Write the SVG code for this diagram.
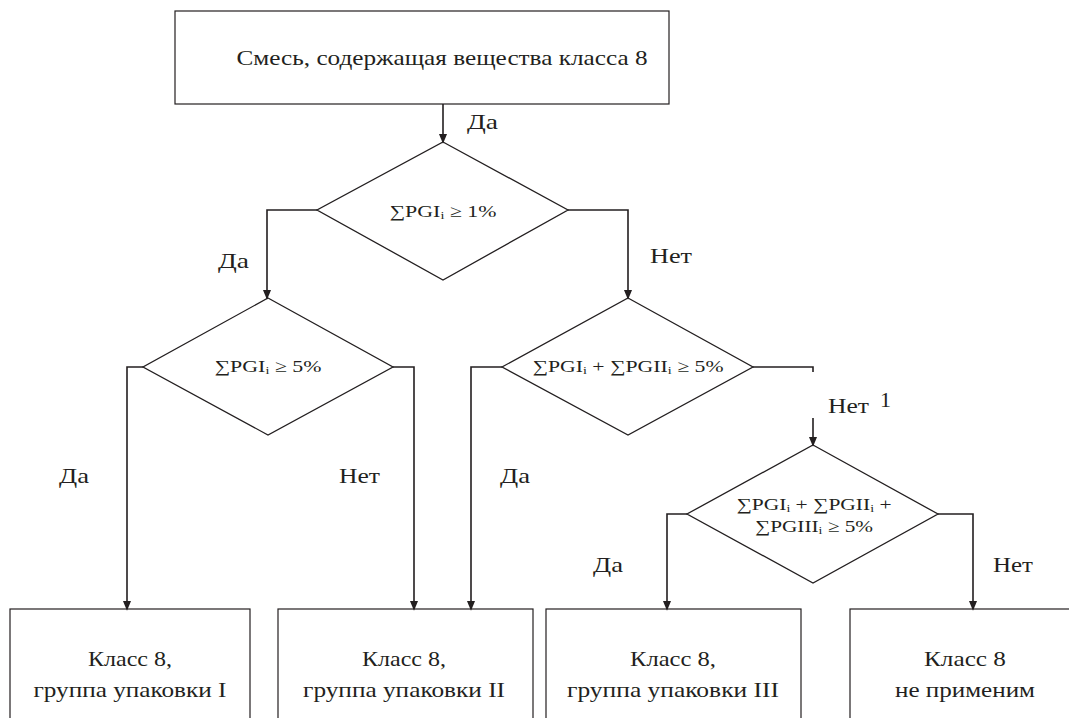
<svg xmlns="http://www.w3.org/2000/svg" width="1069" height="718" viewBox="0 0 1069 718">
<style>
.box{fill:#fff;stroke:#231f20;stroke-width:1.2}
.dia{fill:#fff;stroke:#231f20;stroke-width:1.3}
.con{fill:none;stroke:#231f20;stroke-width:1.6}
text{font-family:'Liberation Serif','Times New Roman',serif;fill:#231f20}
.t{font-size:22px;text-anchor:middle}
.f{font-size:17px;text-anchor:middle}
.l{font-size:22px}
</style>
<defs>
<marker id="arr" markerWidth="10" markerHeight="12" refX="10" refY="5" orient="auto" markerUnits="userSpaceOnUse" viewBox="0 0 12 10">
<path d="M0,0 L12,5 L0,10 Z" fill="#231f20"/>
</marker>
</defs>
<rect width="1069" height="718" fill="#fff"/>

<g id="start">
<rect class="box" x="175" y="11" width="494" height="93"/>
<text class="t" x="442" y="65" textLength="411" lengthAdjust="spacingAndGlyphs">Смесь, содержащая вещества класса 8</text>
</g>

<g id="d1">
<polygon class="dia" points="443,142 568,210 443,280 317,210"/>
<text class="f" x="443" y="217" textLength="107" lengthAdjust="spacingAndGlyphs">∑PGI<tspan font-size="11" dy="2">i</tspan><tspan dy="-2"> ≥ 1%</tspan></text>
</g>

<g id="d2">
<polygon class="dia" points="268,298 393,367 268,435 143,367"/>
<text class="f" x="268" y="372" textLength="107" lengthAdjust="spacingAndGlyphs">∑PGI<tspan font-size="11" dy="2">i</tspan><tspan dy="-2"> ≥ 5%</tspan></text>
</g>

<g id="d3">
<polygon class="dia" points="628,298 753,367 628,435 502,367"/>
<text class="f" x="628" y="372" textLength="191" lengthAdjust="spacingAndGlyphs">∑PGI<tspan font-size="11" dy="2">i</tspan><tspan dy="-2"> + ∑PGII</tspan><tspan font-size="11" dy="2">i</tspan><tspan dy="-2"> ≥ 5%</tspan></text>
</g>

<g id="d4">
<polygon class="dia" points="813,445 938,514 813,583 687,514"/>
<text class="f" x="814" y="510" textLength="155" lengthAdjust="spacingAndGlyphs">∑PGI<tspan font-size="11" dy="2">i</tspan><tspan dy="-2"> + ∑PGII</tspan><tspan font-size="11" dy="2">i</tspan><tspan dy="-2"> +</tspan></text>
<text class="f" x="814" y="532" textLength="118" lengthAdjust="spacingAndGlyphs">∑PGIII<tspan font-size="11" dy="2">i</tspan><tspan dy="-2"> ≥ 5%</tspan></text>
</g>

<g id="r1">
<rect class="box" x="10" y="609" width="240" height="120"/>
<text class="t" x="130" y="666" textLength="84" lengthAdjust="spacingAndGlyphs">Класс 8,</text>
<text class="t" x="130" y="697" textLength="193" lengthAdjust="spacingAndGlyphs">группа упаковки I</text>
</g>
<g id="r2">
<rect class="box" x="278" y="609" width="255" height="120"/>
<text class="t" x="404" y="666" textLength="84" lengthAdjust="spacingAndGlyphs">Класс 8,</text>
<text class="t" x="404" y="697" textLength="202" lengthAdjust="spacingAndGlyphs">группа упаковки II</text>
</g>
<g id="r3">
<rect class="box" x="546" y="609" width="255" height="120"/>
<text class="t" x="673" y="666" textLength="86" lengthAdjust="spacingAndGlyphs">Класс 8,</text>
<text class="t" x="673" y="697" textLength="212" lengthAdjust="spacingAndGlyphs">группа упаковки III</text>
</g>
<g id="r4">
<rect class="box" x="850" y="609" width="230" height="120"/>
<text class="t" x="965" y="666" textLength="82" lengthAdjust="spacingAndGlyphs">Класс 8</text>
<text class="t" x="965" y="697" textLength="140" lengthAdjust="spacingAndGlyphs">не применим</text>
</g>

<g id="connectors">
<path class="con" d="M443,104 V142" marker-end="url(#arr)"/>
<path class="con" d="M317,210 H267 V298" marker-end="url(#arr)"/>
<path class="con" d="M568,210 H628 V298" marker-end="url(#arr)"/>
<path class="con" d="M143,367 H127 V609" marker-end="url(#arr)"/>
<path class="con" d="M393,367 H414 V609" marker-end="url(#arr)"/>
<path class="con" d="M502,367 H471 V609" marker-end="url(#arr)"/>
<path class="con" d="M753,367 H813 V372"/>
<path class="con" d="M813,418 V445" marker-end="url(#arr)"/>
<path class="con" d="M687,514 H667 V609" marker-end="url(#arr)"/>
<path class="con" d="M938,514 H973 V609" marker-end="url(#arr)"/>
</g>

<g id="labels">
<text class="l" x="467" y="129" textLength="31" lengthAdjust="spacingAndGlyphs">Да</text>
<text class="l" x="218" y="268" textLength="31" lengthAdjust="spacingAndGlyphs">Да</text>
<text class="l" x="650" y="263" textLength="42" lengthAdjust="spacingAndGlyphs">Нет</text>
<text class="l" x="59" y="483" textLength="30" lengthAdjust="spacingAndGlyphs">Да</text>
<text class="l" x="339" y="483" textLength="41" lengthAdjust="spacingAndGlyphs">Нет</text>
<text class="l" x="500" y="483" textLength="30" lengthAdjust="spacingAndGlyphs">Да</text>
<text class="l" x="828" y="413" textLength="41" lengthAdjust="spacingAndGlyphs">Нет</text>
<text class="l" x="880" y="407" font-size="13">1</text>
<text class="l" x="593" y="572" textLength="30" lengthAdjust="spacingAndGlyphs">Да</text>
<text class="l" x="993" y="572" textLength="40" lengthAdjust="spacingAndGlyphs">Нет</text>
</g>
</svg>
